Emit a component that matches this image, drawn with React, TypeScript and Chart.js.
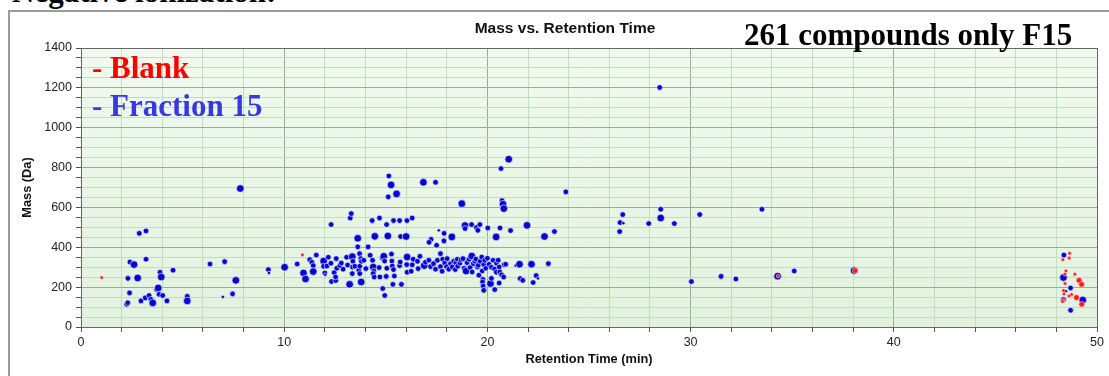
import React, { useEffect, useRef } from 'react';
import { Chart, registerables } from 'chart.js';

Chart.register(...registerables);

// [retention time (min), mass (Da), abundance class 1..3]
const blankPoints: [number, number, number][] = [
  [1.02, 248, 1], [10.9, 362, 1], [34.3, 255, 1], [38.1, 283, 2],
  [48.65, 370, 1], [48.63, 346, 1], [48.32, 338, 1], [48.47, 281, 1], [48.42, 265, 1],
  [48.91, 265, 1], [49.12, 234, 2], [49.24, 214, 2], [48.43, 218, 1], [48.35, 183, 1],
  [48.38, 166, 1], [48.62, 156, 1], [48.75, 163, 1], [48.99, 148, 2], [48.35, 136, 1],
  [48.3, 128, 1], [49.25, 114, 2],
];

const fraction15Points: [number, number, number][] = [
  // early eluters
  [2.25, 114, 2], [2.3, 122, 2], [2.31, 244, 2], [2.39, 171, 2], [2.41, 326, 2], [2.61, 313, 3],
  [2.79, 246, 3], [2.87, 470, 2], [2.95, 131, 2], [3.16, 146, 2], [3.2, 482, 2], [3.2, 340, 2],
  [3.35, 158, 2], [3.44, 139, 2], [3.53, 121, 3], [3.72, 188, 2], [3.8, 196, 3], [3.84, 164, 2],
  [3.89, 275, 2], [3.95, 251, 3], [4.02, 158, 2], [4.23, 131, 2], [4.53, 285, 2], [5.23, 154, 2],
  [5.23, 131, 3], [6.35, 316, 2], [6.98, 151, 1], [7.07, 328, 2], [7.46, 166, 2], [7.62, 234, 3],
  [7.84, 695, 3], [9.22, 288, 2], [9.25, 271, 1],
  // 10-16 min
  [10.02, 300, 3], [10.64, 316, 2], [10.95, 271, 3], [11.05, 241, 3], [11.26, 338, 2], [11.36, 325, 2],
  [11.43, 308, 2], [11.43, 278, 3], [11.58, 361, 2], [11.94, 331, 3], [11.94, 305, 2], [12.0, 271, 2],
  [12.02, 262, 1], [12.1, 306, 2], [12.17, 350, 2], [12.3, 320, 2], [12.31, 514, 2], [12.33, 228, 2],
  [12.46, 273, 2], [12.54, 233, 2], [12.56, 343, 2], [12.59, 295, 2], [12.53, 251, 2], [12.74, 308, 2],
  [12.81, 321, 2], [12.9, 290, 2], [13.07, 350, 2], [13.12, 311, 2], [13.22, 214, 3], [13.25, 547, 2],
  [13.3, 569, 2], [13.35, 353, 3], [13.38, 330, 2], [13.36, 301, 2], [13.35, 268, 2], [13.48, 305, 2],
  [13.62, 445, 3], [13.62, 402, 2], [13.67, 285, 2], [13.71, 368, 2], [13.72, 305, 2], [13.72, 268, 2],
  [13.77, 343, 2], [13.79, 226, 3], [13.8, 330, 2], [13.92, 335, 2], [14.02, 293, 2], [14.13, 402, 2],
  [14.23, 360, 2], [14.33, 534, 2], [14.35, 335, 2], [14.38, 301, 3], [14.41, 281, 2], [14.38, 268, 2],
  [14.43, 251, 2], [14.46, 455, 3], [14.67, 298, 2], [14.69, 547, 2], [14.71, 251, 2], [14.82, 346, 2],
  [14.85, 193, 2], [14.9, 355, 3], [14.94, 331, 2], [14.95, 158, 2], [15.04, 514, 2], [15.05, 295, 2],
  [15.02, 254, 2], [15.1, 457, 3], [15.12, 653, 2], [15.15, 758, 2], [15.26, 713, 3], [15.28, 366, 2],
  [15.3, 331, 2], [15.32, 306, 2], [15.35, 214, 2], [15.38, 534, 2], [15.38, 288, 2], [15.42, 256, 2],
  [15.53, 668, 3], [15.68, 534, 2], [15.68, 308, 2], [15.71, 326, 2], [15.73, 454, 2], [15.77, 214, 2],
  [16.0, 454, 3], [16.04, 534, 2], [16.05, 351, 3], [16.03, 313, 2], [16.05, 275, 2],
  // 16-23 min upper
  [16.3, 547, 2], [16.85, 726, 3], [17.45, 726, 2], [17.61, 485, 1], [17.87, 470, 2], [17.86, 432, 2],
  [18.25, 452, 3], [17.23, 440, 2], [17.13, 425, 2], [17.5, 410, 2], [17.69, 368, 2], [18.74, 619, 3],
  [18.9, 509, 3], [18.9, 494, 2], [19.22, 514, 2], [19.46, 499, 2], [19.53, 485, 2], [19.63, 514, 2],
  [20.02, 497, 2], [20.62, 497, 2], [21.14, 484, 2], [20.43, 452, 3], [21.95, 510, 3], [22.81, 454, 3],
  [23.3, 479, 2], [20.67, 795, 2], [21.05, 842, 3], [20.72, 634, 2], [20.77, 616, 3], [20.81, 594, 3],
  [23.86, 678, 2],
  // 16-23 min band
  [16.35, 340, 2], [16.3, 312, 2], [16.25, 280, 2], [16.56, 330, 2], [16.68, 355, 2], [16.59, 293, 2],
  [16.89, 308, 3], [16.95, 325, 2], [17.12, 335, 2], [17.2, 303, 2], [17.35, 318, 2], [17.45, 290, 2],
  [17.54, 335, 2], [17.69, 303, 2], [17.77, 280, 2], [17.8, 340, 2], [17.9, 321, 2], [18.02, 343, 2],
  [17.99, 303, 2], [18.1, 290, 2], [18.19, 318, 2], [18.27, 301, 2], [18.34, 330, 2], [18.42, 288, 2],
  [18.45, 322, 2], [18.52, 340, 2], [18.54, 305, 2], [18.65, 321, 2], [18.7, 338, 2], [18.8, 343, 2],
  [18.85, 295, 2], [18.95, 281, 3], [19.0, 323, 2], [19.1, 340, 2], [19.15, 298, 2], [19.23, 356, 3],
  [19.31, 318, 2], [19.25, 276, 2], [19.38, 330, 2], [19.43, 341, 2], [19.51, 301, 2], [19.55, 310, 2],
  [19.64, 330, 2], [19.72, 351, 2], [19.74, 281, 2], [19.58, 260, 2], [19.82, 313, 2], [19.78, 239, 2],
  [19.76, 226, 2], [19.79, 206, 2], [19.82, 184, 2], [19.87, 335, 2], [19.92, 295, 2], [20.0, 345, 2],
  [20.08, 315, 2], [20.15, 218, 3], [20.2, 244, 2], [20.2, 300, 2], [20.28, 335, 2], [20.36, 188, 2],
  [20.35, 291, 2], [20.44, 275, 2], [20.45, 320, 2], [20.53, 335, 2], [20.58, 301, 2], [20.58, 221, 2],
  [20.61, 276, 2], [20.7, 262, 2], [20.8, 251, 2], [20.82, 313, 2], [20.9, 315, 2], [21.39, 308, 1],
  [21.58, 315, 3], [22.17, 315, 3], [21.61, 243, 2], [21.74, 234, 2], [22.25, 223, 2], [22.4, 258, 2],
  [22.49, 244, 1], [23.0, 318, 2],
  // late eluters
  [26.51, 479, 2], [26.53, 524, 2], [26.69, 521, 1], [26.66, 564, 2], [27.94, 519, 2], [28.53, 591, 2],
  [28.53, 547, 3], [29.2, 519, 2], [30.45, 564, 2], [33.51, 591, 2], [28.48, 1202, 2], [30.04, 228, 2],
  [31.5, 254, 2], [32.23, 241, 2], [34.28, 255, 3], [35.1, 281, 2], [38.05, 283, 3],
  [48.37, 361, 2], [48.35, 248, 3], [48.7, 196, 2], [48.47, 180, 1], [48.35, 138, 2], [49.3, 135, 3],
  [48.7, 84, 2],
];

const xTickLabels = [0, 10, 20, 30, 40, 50];
const yTickLabels = [0, 200, 400, 600, 800, 1000, 1200, 1400];

const RADIUS: Record<number, number> = { 1: 1.7, 2: 2.8, 3: 3.8 };
const SANS = "'Liberation Sans', Arial, sans-serif";
const SERIF = "'Liberation Serif', 'Times New Roman', serif";
const MAJOR = '#8fb38c';
const MINOR = '#c0dfbc';

const plotBg = {
  id: 'plotBg',
  beforeDraw(chart: any) {
    const { ctx, chartArea: a } = chart;
    const g = ctx.createLinearGradient(0, a.top, 0, a.bottom);
    g.addColorStop(0, '#f2f9f0');
    g.addColorStop(1, '#e3f1df');
    ctx.save();
    ctx.fillStyle = g;
    ctx.fillRect(a.left, a.top, a.right - a.left, a.bottom - a.top);
    ctx.restore();
  },
  beforeDatasetsDraw(chart: any) {
    const { ctx, chartArea: a } = chart;
    ctx.save();
    ctx.strokeStyle = '#666';
    ctx.lineWidth = 1;
    ctx.strokeRect(Math.round(a.left) + 0.5, Math.round(a.top) + 0.5, Math.round(a.right - a.left), Math.round(a.bottom - a.top));
    ctx.restore();
  },
};

function toData(pts: [number, number, number][]) {
  return pts.map(([x, y]) => ({ x, y }));
}

export default function App() {
  const ref = useRef<HTMLCanvasElement>(null);
  useEffect(() => {
    if (!ref.current) return;
    const chart = new Chart(ref.current, {
      type: 'scatter',
      data: {
        datasets: [
          {
            label: 'Blank',
            data: toData(blankPoints),
            backgroundColor: '#ff1a1a',
            borderColor: 'rgba(255,190,190,0.8)',
            borderWidth: 0.8,
            pointRadius: blankPoints.map((p) => RADIUS[p[2]]),
          },
          {
            label: 'Fraction 15',
            data: toData(fraction15Points),
            backgroundColor: '#0606d0',
            borderColor: 'rgba(235,240,255,0.8)',
            borderWidth: 0.8,
            pointRadius: fraction15Points.map((p) => RADIUS[p[2]]),
          },
        ],
      },
      options: {
        animation: false,
        responsive: false,
        events: [],
        layout: { padding: { left: 0, right: 12, top: 48, bottom: 0 } },
        plugins: { legend: { display: false }, tooltip: { enabled: false }, title: { display: false } },
        scales: {
          x: {
            type: 'linear',
            min: 0,
            max: 50,
            afterFit: (s: any) => { s.height = 49; },
            ticks: {
              stepSize: 2,
              autoSkip: false,
              maxRotation: 0,
              padding: 3,
              color: '#222',
              font: { family: SANS, size: 12.5 },
              callback: (v: any) => (xTickLabels.includes(Number(v)) ? String(v) : ''),
            },
            grid: {
              color: (c: any) => (c.tick && c.tick.value % 10 === 0 ? MAJOR : MINOR),
              tickColor: '#555',
              tickLength: 5,
            },
            border: { color: '#555', width: 1 },
            title: {
              display: true,
              text: 'Retention Time (min)',
              color: '#111',
              font: { family: SANS, size: 12.8, weight: 'bold' },
              padding: { top: 0, bottom: 9 },
            },
          },
          y: {
            type: 'linear',
            min: 0,
            max: 1400,
            afterFit: (s: any) => { s.width = 81; },
            ticks: {
              stepSize: 50,
              autoSkip: false,
              padding: 4,
              color: '#222',
              font: { family: SANS, size: 12.5 },
              callback: (v: any) => (yTickLabels.includes(Number(v)) ? String(v) : ''),
            },
            grid: {
              color: (c: any) => (c.tick && c.tick.value % 200 === 0 ? MAJOR : MINOR),
              tickColor: '#555',
              tickLength: 5,
            },
            border: { color: '#555', width: 1 },
            title: {
              display: true,
              text: 'Mass (Da)',
              color: '#111',
              font: { family: SANS, size: 12.8, weight: 'bold' },
              padding: { top: 20, bottom: 0 },
            },
          },
        },
      },
      plugins: [plotBg],
    } as any);
    return () => chart.destroy();
  }, []);

  const big: React.CSSProperties = {
    position: 'absolute',
    fontFamily: SERIF,
    fontWeight: 'bold',
    fontSize: 31,
    lineHeight: '31px',
    whiteSpace: 'nowrap',
  };

  return (
    <div style={{ position: 'absolute', left: 0, top: 0, width: 1109, height: 376, overflow: 'hidden', background: '#fff' }}>
      <div style={{ position: 'absolute', left: 8, top: 10, width: 1300, height: 600, borderLeft: '2px solid #9a9a9a', borderTop: '2px solid #9a9a9a' }} />
      <div style={{ ...big, left: 12, top: -24, color: '#000' }}>Negative ionization:</div>
      <canvas ref={ref} width={1109} height={376} style={{ position: 'absolute', left: 0, top: 0 }} />
      <div style={{ position: 'absolute', left: 415, width: 300, top: 20, textAlign: 'center', fontFamily: SANS, fontWeight: 'bold', fontSize: 15.5, lineHeight: '16px', color: '#111' }}>
        Mass vs. Retention Time
      </div>
      <div style={{ ...big, left: 744, top: 19, color: '#000' }}>261 compounds only F15</div>
      <div style={{ ...big, left: 92, top: 52, color: '#ff0000' }}>- Blank</div>
      <div style={{ ...big, left: 92, top: 90, color: '#3838e0' }}>- Fraction 15</div>
    </div>
  );
}
